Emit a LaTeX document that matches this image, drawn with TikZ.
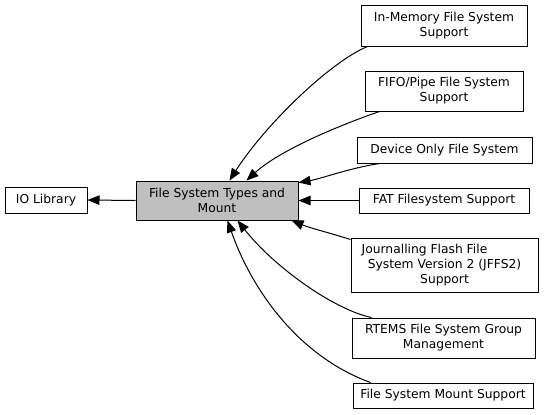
\documentclass[tikz,border=0pt]{standalone}
\usepackage{fontspec}
\setmainfont{DejaVu Sans}
\usetikzlibrary{arrows.meta}
\begin{document}
\begin{tikzpicture}[x=1pt,y=-1pt,
  box/.style={draw=black,line width=1pt,fill=white,inner sep=0pt,align=center,
    font=\fontsize{12.3}{15}\selectfont},
  edge/.style={line width=1pt,-{Triangle[length=12pt,width=9.5pt]}}]
\useasboundingbox (0,0) rectangle (547,415);
\node[box,minimum width=82,minimum height=26] (io) at (46,200) {IO Library};
\node[box,fill={rgb,255:red,191;green,191;blue,191},minimum width=162,minimum height=39] (fst) at (217,200.5) {File System Types and\\Mount};
\node[box,minimum width=166,minimum height=41] (inmem) at (444,25.5) {In-Memory File System\\Support};
\node[box,minimum width=158,minimum height=40] (fifo) at (444,91) {FIFO/Pipe File System\\Support};
\node[box,minimum width=175,minimum height=26] (dev) at (444.5,150) {Device Only File System};
\node[box,minimum width=170,minimum height=25] (fat) at (444,200.5) {FAT Filesystem Support};
\node[box,minimum width=187,minimum height=54] (jffs) at (444.5,265) {Journalling Flash File\hspace*{40pt}\\System Version 2 (JFFS2)\\Support};
\node[box,minimum width=183,minimum height=40] (rtems) at (443.5,338) {RTEMS File System Group\\Management};
\node[box,minimum width=180,minimum height=25] (mount) at (443,395.5) {File System Mount Support};

\draw[edge] (fst.west) -- (io.east);
\draw[edge] ([xshift=7pt]inmem.south west) .. controls (330,62) and (265,125) .. ([xshift=94pt]fst.north west);
\draw[edge] ([xshift=15pt]fifo.south west) .. controls (340,125) and (280,150) .. ([xshift=111pt]fst.north west);
\draw[edge] ([xshift=23pt]dev.south west) .. controls (350,168) and (320,179) .. ([yshift=-2pt]fst.north east);
\draw[edge] (fat.west) -- (fst.east);
\draw[edge] ([yshift=-2pt]jffs.north west) .. controls (330,233) and (310,228) .. ([xshift=-7pt]fst.south east);
\draw[edge] ([xshift=20pt]rtems.north west) .. controls (335,310) and (275,268) .. ([xshift=102pt]fst.south west);
\draw[edge] ([xshift=18pt]mount.north west) .. controls (295,355) and (250,285) .. ([xshift=92pt]fst.south west);
\end{tikzpicture}
\end{document}
